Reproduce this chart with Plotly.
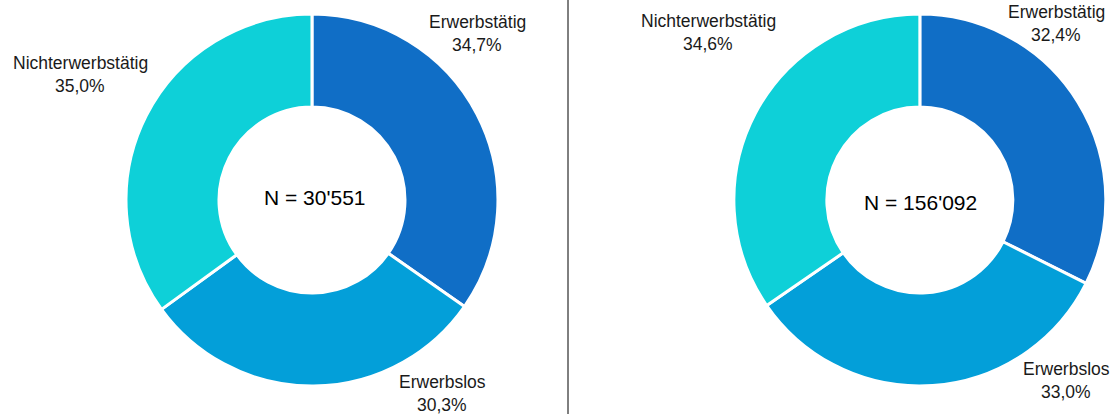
import plotly.graph_objects as go

categories = ["Erwerbstätig", "Erwerbslos", "Nichterwerbstätig"]
left_values = [34.7, 30.3, 35.0]
right_values = [32.4, 33.0, 34.6]
left_n = "30'551"
right_n = "156'092"
colors = ["#106EC6", "#039FD9", "#0ED0D8"]

FONT = "Liberation Sans, Arial, sans-serif"


def pct(v):
    return f"{v:.1f}%".replace(".", ",")


fig = go.Figure()
for vals, dom in [(left_values, [0.1128, 0.4458]), (right_values, [0.657, 0.990])]:
    fig.add_trace(
        go.Pie(
            labels=categories,
            values=vals,
            hole=0.5,
            sort=False,
            direction="clockwise",
            rotation=0,
            textinfo="none",
            marker=dict(colors=colors, line=dict(color="white", width=3)),
            domain=dict(x=dom, y=[0.0676, 0.966]),
            showlegend=False,
        )
    )

# label positions in pixels: (x centre, y centre of first line)
left_pos = [(477, 20), (442, 380), (80, 60.5)]
right_pos = [(1056, 10), (1066, 367), (708, 18.5)]

annotations = []
for vals, pos in [(left_values, left_pos), (right_values, right_pos)]:
    for cat, v, (px_, py_) in zip(categories, vals, pos):
        for i, txt in enumerate([cat, pct(v)]):
            annotations.append(
                dict(
                    text=txt,
                    x=px_ / 1117,
                    y=1 - (py_ + 2 + i * 23) / 414,
                    xref="paper",
                    yref="paper",
                    xanchor="center",
                    yanchor="middle",
                    showarrow=False,
                    font=dict(size=17.5, color="#1a1a1a", family=FONT),
                )
            )

for n, cx, cy in [(left_n, 315, 197), (right_n, 920, 203)]:
    annotations.append(
        dict(
            text=f"N = {n}",
            x=cx / 1117,
            y=1 - cy / 414,
            xref="paper",
            yref="paper",
            xanchor="center",
            yanchor="middle",
            showarrow=False,
            font=dict(size=21, color="#000000", family=FONT),
        )
    )

fig.update_layout(
    width=1117,
    height=414,
    margin=dict(l=0, r=0, t=0, b=0),
    paper_bgcolor="white",
    plot_bgcolor="white",
    annotations=annotations,
    shapes=[
        dict(
            type="line",
            xref="paper",
            yref="paper",
            x0=568 / 1117,
            x1=568 / 1117,
            y0=0,
            y1=1,
            line=dict(color="black", width=1),
        )
    ],
)

fig.write_html(
    "out.html",
    config={"displayModeBar": False},
    post_script="document.body.style.margin='0';",
)
